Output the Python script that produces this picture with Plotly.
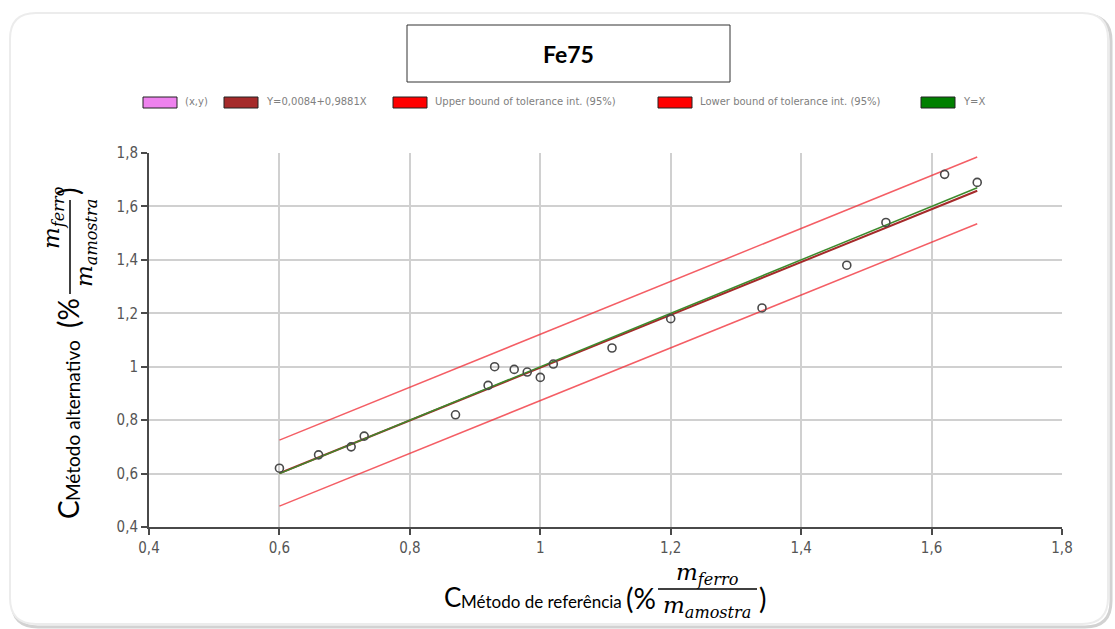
import plotly.graph_objects as go

# Fe75 measurements: reference method (x) vs alternative method (y)
ref_method = [0.60, 0.66, 0.71, 0.73, 0.87, 0.92, 0.93, 0.96, 0.98, 1.00,
              1.02, 1.11, 1.20, 1.34, 1.47, 1.53, 1.62, 1.67]
alt_method = [0.62, 0.67, 0.70, 0.74, 0.82, 0.93, 1.00, 0.99, 0.98, 0.96,
              1.01, 1.07, 1.18, 1.22, 1.38, 1.54, 1.72, 1.69]

# Fitted line Y = a + bX and the 95% tolerance interval limits
fit_intercept = 0.0084
fit_slope = 0.9881
line_x = [0.60, 1.67]
upper_bound = [0.725, 1.785]
lower_bound = [0.478, 1.535]

tick_vals = [0.4, 0.6, 0.8, 1.0, 1.2, 1.4, 1.6, 1.8]

legend_labels = ["(x,y)", "Y=0,0084+0,9881X", "Upper bound of tolerance int. (95%)",
                 "Lower bound of tolerance int. (95%)", "Y=X"]
legend_colors = ["#EE82EE", "#A52A2A", "#FF0000", "#FF0000", "#008000"]

W, H = 1115, 629
L, R, T, B = 149, 53, 153, 102
PW, PH = W - L - R, H - T - B


def px(x):
    return (x - L) / PW


def py(y):
    return (H - B - y) / PH


fig = go.Figure()

fit_y = [fit_intercept + fit_slope * x for x in line_x]

fig.add_trace(go.Scatter(x=line_x, y=upper_bound, mode="lines",
                         line=dict(color="rgba(240,40,50,0.75)", width=1.5)))
fig.add_trace(go.Scatter(x=line_x, y=lower_bound, mode="lines",
                         line=dict(color="rgba(240,40,50,0.75)", width=1.5)))
fig.add_trace(go.Scatter(x=line_x, y=fit_y, mode="lines",
                         line=dict(color="#A52A2A", width=2)))
fig.add_trace(go.Scatter(x=line_x, y=line_x, mode="lines",
                         line=dict(color="#3c8a2c", width=1.5)))
fig.add_trace(go.Scatter(x=ref_method, y=alt_method, mode="markers",
                         marker=dict(symbol="circle-open", size=8,
                                     color="#4a4a4a", line=dict(width=1.6))))

shapes = []
annotations = []

# outer rounded frame with a soft shadow
def rounded_path(x0, y0, x1, y1, r):
    rx, ry = r / PW, r / PH
    a, b, c, d = px(x0), py(y0), px(x1), py(y1)
    return (f"M {a+rx},{b} L {c-rx},{b} Q {c},{b} {c},{b-ry} "
            f"L {c},{d+ry} Q {c},{d} {c-rx},{d} L {a+rx},{d} "
            f"Q {a},{d} {a},{d+ry} L {a},{b-ry} Q {a},{b} {a+rx},{b} Z")

shapes.append(dict(type="path", xref="paper", yref="paper", layer="below",
                   path=rounded_path(12, 15, 1111, 627, 26),
                   line=dict(color="#d2d2d2", width=3)))
shapes.append(dict(type="path", xref="paper", yref="paper", layer="below",
                   path=rounded_path(10, 13, 1108, 624, 26),
                   fillcolor="white", line=dict(color="#ececec", width=2)))

# title box
shapes.append(dict(type="rect", xref="paper", yref="paper",
                   x0=px(407), x1=px(730), y0=py(82), y1=py(25),
                   line=dict(color="#333333", width=1)))
annotations.append(dict(text="<b>Fe75</b>", x=px(568), y=py(54),
                        font=dict(family="Lato, Open Sans, sans-serif", size=23)))

# legend row with rectangular swatches
swatch_x = [143, 224, 393, 658, 921]
for sx, label, col in zip(swatch_x, legend_labels, legend_colors):
    shapes.append(dict(type="rect", xref="paper", yref="paper",
                       x0=px(sx), x1=px(sx + 34), y0=py(108), y1=py(97),
                       fillcolor=col, line=dict(color="#222222", width=1)))
    annotations.append(dict(text=label, x=px(sx + 40), y=py(102),
                            xanchor="left",
                            font=dict(family="DejaVu Sans, Arial", size=10,
                                      color="#808080")))

title_font = "Lato, Open Sans, sans-serif"
math_font = "DejaVu Serif, Liberation Serif, serif"

num_txt = "<i>m</i><sub><i>ferro</i></sub>"
den_txt = "<i>m</i><sub><i>amostra</i></sub>"

# x axis title
annotations += [
    dict(text="C", x=px(452), y=py(597), font=dict(family=title_font, size=26)),
    dict(text="Método de referência", x=px(541), y=py(601),
         font=dict(family=title_font, size=17)),
    dict(text="(%", x=px(641), y=py(598), font=dict(family=title_font, size=28)),
    dict(text=num_txt, x=px(707), y=py(574), font=dict(family=math_font, size=23)),
    dict(text=den_txt, x=px(707), y=py(607), font=dict(family=math_font, size=23)),
    dict(text=")", x=px(762), y=py(598), font=dict(family=title_font, size=28)),
]
shapes.append(dict(type="line", xref="paper", yref="paper",
                   x0=px(658), x1=px(757), y0=py(589), y1=py(589),
                   line=dict(color="#000000", width=1.5)))

# y axis title (rotated)
annotations += [
    dict(text="C", x=px(68), y=py(510), textangle=-90,
         font=dict(family=title_font, size=28)),
    dict(text="Método alternativo", x=px(72), y=py(421), textangle=-90,
         font=dict(family=title_font, size=19)),
    dict(text="(%", x=px(68), y=py(313), textangle=-90,
         font=dict(family=title_font, size=28)),
    dict(text=num_txt, x=px(53), y=py(218), textangle=-90,
         font=dict(family=math_font, size=23)),
    dict(text=den_txt, x=px(86), y=py(243), textangle=-90,
         font=dict(family=math_font, size=23)),
    dict(text=")", x=px(68), y=py(192), textangle=-90,
         font=dict(family=title_font, size=28)),
]
shapes.append(dict(type="line", xref="paper", yref="paper",
                   x0=px(70), x1=px(70), y0=py(294), y1=py(200),
                   line=dict(color="#000000", width=1.5)))

for a in annotations:
    a.setdefault("xref", "paper")
    a.setdefault("yref", "paper")
    a.setdefault("showarrow", False)
    a.setdefault("xanchor", "center")
    a.setdefault("yanchor", "middle")
    a["font"].setdefault("color", "#000000")

axis_common = dict(
    range=[0.4, 1.8], tickvals=tick_vals, showgrid=True,
    gridcolor="#d0d0d0", gridwidth=1.5, zeroline=False,
    showline=True, linecolor="#4a4a4a", linewidth=2,
    ticks="outside", ticklen=6, tickcolor="#4a4a4a", tickwidth=1.5,
    tickfont=dict(family="Liberation Sans Narrow, DejaVu Sans Condensed, Arial",
                  size=15, color="#555555"),
)

fig.update_layout(
    width=W, height=H, autosize=False,
    margin=dict(l=L, r=R, t=T, b=B, pad=0),
    paper_bgcolor="white", plot_bgcolor="white",
    separators=",.",
    showlegend=False,
    shapes=shapes, annotations=annotations,
    xaxis=dict(**axis_common, mirror=False),
    yaxis=dict(**axis_common, mirror=False),
)

fig.write_html("out.html")
